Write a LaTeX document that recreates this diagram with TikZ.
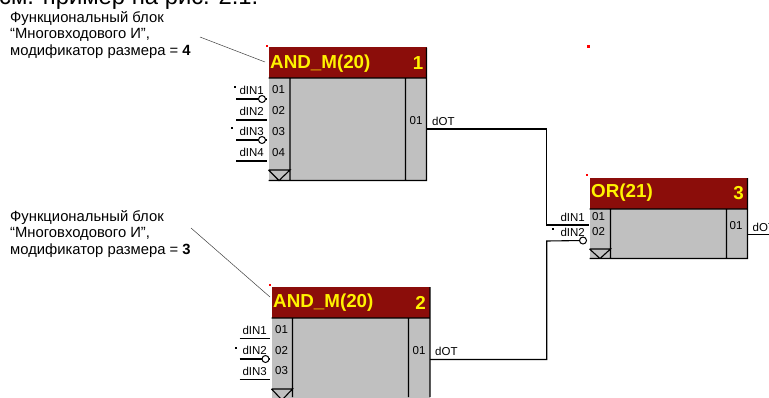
\documentclass[tikz,border=0pt]{standalone}
\usepackage{fontspec}
\setmainfont{Liberation Sans}
\usetikzlibrary{positioning}
\definecolor{headred}{HTML}{8B0D0A}
\definecolor{bodygray}{HTML}{C0C0C0}
\tikzset{
	blockbody/.style={fill=bodygray,inner sep=0pt,anchor=north west},
	blockhead/.style={fill=headred,inner sep=0pt,anchor=south west},
	headtext/.style={text=yellow,font=\bfseries\fontsize{18.8}{20}\selectfont,inner sep=0pt},
	pintext/.style={font=\fontsize{11.5}{13}\selectfont,inner sep=0pt},
	notetext/.style={font=\fontsize{14.8}{16.5}\selectfont,inner sep=0pt,align=left,anchor=north west},
	wire/.style={line width=1.1pt},
	leader/.style={line width=0.5pt,black!75},
	invpin/.style={circle,draw,fill=white,line width=1pt,minimum size=7pt,inner sep=0pt},
	invmark/.style={fill=black,minimum size=2pt,inner sep=0pt},
	redmark/.style={fill=red,minimum size=2pt,inner sep=0pt}
}
\begin{document}
\begin{tikzpicture}[x=1pt,y=-1pt]
	\clip (0,0) rectangle (769,397);
	\node[font=\fontsize{23.8}{26}\selectfont,inner sep=0pt,anchor=base west] (top) at (-1,4) {см. пример на рис. 2.1.};
	% notes
	\node[notetext] (noteA) at (10,11) {Функциональный блок\\“Многовходового И”,\\модификатор размера = \textbf{4}};
	\node[notetext] (noteB) at (10,210) {Функциональный блок\\“Многовходового И”,\\модификатор размера = \textbf{3}};
	% blocks
	\node[blockbody,minimum width=158pt,minimum height=102.5pt] (bodyA) at (268.5,78) {};
	\node[blockhead,minimum width=158pt,minimum height=31pt] (headA) at (268.5,78) {};
	\node[blockbody,minimum width=158.5pt,minimum height=90pt] (bodyB) at (271.5,318) {};
	\node[blockhead,minimum width=158.5pt,minimum height=31pt] (headB) at (271.5,318) {};
	\node[blockbody,minimum width=158pt,minimum height=49.5pt] (bodyC) at (589.5,209) {};
	\node[blockhead,minimum width=158pt,minimum height=31pt] (headC) at (589.5,209) {};
	\node[headtext,anchor=west] (titleA) at (270,63.5) {AND\_M(20)};
	\node[headtext,anchor=east] (numA) at (423.5,63.5) {1};
	\node[headtext,anchor=west] (titleB) at (273,303) {AND\_M(20)};
	\node[headtext,anchor=east] (numB) at (426,303) {2};
	\node[headtext,anchor=west] (titleC) at (591,193) {OR(21)};
	\node[headtext,anchor=east] (numC) at (744,193) {3};
	% block lines
	\draw[wire] (268.5,78) -- (426.5,78) (290,78) -- (290,180.5) (405.5,78) -- (405.5,180.5)
		(268.5,170) -- (290,170) -- (279,180.5) -- (268.5,170) (268.5,180.5) -- (426.5,180.5) -- (426.5,47.5);
	\draw[wire] (271.5,318) -- (430,318) (292.5,318) -- (292.5,397) (408.5,318) -- (408.5,397)
		(271.5,389) -- (292.5,389) -- (282,400) -- (271.5,389) (430,397) -- (430,287);
	\draw[wire] (589.5,209) -- (747.5,209) (610.5,209) -- (610.5,258.5) (726.5,209) -- (726.5,258.5)
		(589.5,249) -- (610.5,249) -- (600,258.5) -- (589.5,249) (589.5,258.5) -- (747.5,258.5) -- (747.5,178);
	% pins
	\foreach \n/\y/\u in {1/90/99,2/111/120,3/131.5/140,4/152.5/161}{
		\node[pintext,anchor=east] (pinA\n) at (264,\y) {dIN\n};
		\node[pintext,anchor=west] (numA\n) at (272,\y) {0\n};
		\coordinate (fromA\n) at (236,\u);
		\coordinate (toA\n) at (267,\u);
		\draw[wire] (fromA\n) -- (toA\n);
	}
	\foreach \n/\y/\u in {1/330/338.7,2/350.5/359,3/371/379.5}{
		\node[pintext,anchor=east] (pinB\n) at (267,\y) {dIN\n};
		\node[pintext,anchor=west] (numB\n) at (275,\y) {0\n};
		\coordinate (fromB\n) at (239.5,\u);
		\coordinate (toB\n) at (270,\u);
		\draw[wire] (fromB\n) -- (toB\n);
	}
	\node[invpin] (invA1) at (262,99) {};
	\node[invpin] (invA3) at (262,140) {};
	\node[invpin] (invB2) at (265.5,359) {};
	\node[invmark] (markA1) at (235,87) {};
	\node[invmark] (markA3) at (231.5,128) {};
	\node[invmark] (markB2) at (235.5,347.5) {};
	\node[invmark] (markC2) at (553,229) {};
	% block C pins
	\node[pintext,anchor=east] (pinC1) at (585,217) {dIN1};
	\node[pintext,anchor=east] (pinC2) at (585,232) {dIN2};
	\node[pintext,anchor=west] (numC1) at (592,217) {01};
	\node[pintext,anchor=west] (numC2) at (592,232) {02};
	\node[pintext] (outnumC) at (736,226) {01};
	\node[pintext,anchor=west] (outC) at (752.5,227) {dOT};
	\node[pintext] (outnumA) at (416,121) {01};
	\node[pintext,anchor=west] (outA) at (432,121) {dOT};
	\node[pintext] (outnumB) at (419,351) {01};
	\node[pintext,anchor=west] (outB) at (435,351) {dOT};
	% wires
	\coordinate (startA) at (426.5,129);
	\coordinate (startB) at (430,359.5);
	\coordinate (startC) at (747.5,234.5);
	\coordinate (endC) at (769,234.5);
	\coordinate (bendA) at (546.7,225);
	\coordinate (bendB) at (546.7,241);
	\coordinate (inC1) at (589,225);
	\node[invpin] (invC2) at (583,240.5) {};
	\draw[wire] (startA) -| (bendA) -- (inC1);
	\draw[wire] (startB) -| (bendB) -- (invC2);
	\draw[wire] (startC) -- (endC);
	% leaders and marks
	\coordinate (leadA) at (200,37);
	\coordinate (leadB) at (191,228);
	\draw[leader] (leadA) -- (265,62);
	\draw[leader] (leadB) -- (270,297);
	\node[redmark] (redA) at (267,45.5) {};
	\node[redmark] (redB) at (270,285) {};
	\node[redmark] (redC) at (587,175) {};
	\node[redmark,minimum size=3pt] (redD) at (588.3,46) {};
\end{tikzpicture}
\end{document}
